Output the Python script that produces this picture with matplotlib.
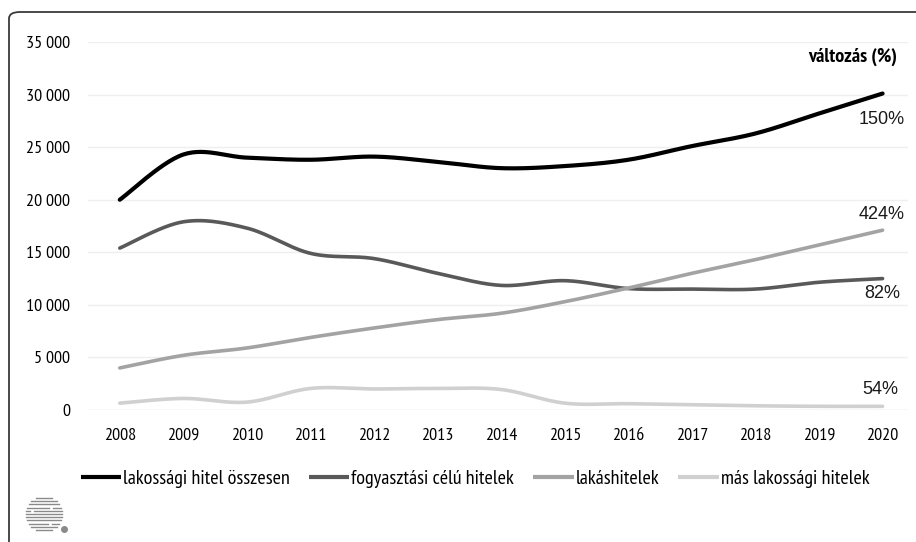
import numpy as np
import matplotlib
matplotlib.use("Agg")
import matplotlib.pyplot as plt
from matplotlib.patches import FancyBboxPatch
from matplotlib.lines import Line2D
from matplotlib.ticker import FuncFormatter

# ---------------- data ----------------
years = ["2008", "2009", "2010", "2011", "2012", "2013", "2014",
         "2015", "2016", "2017", "2018", "2019", "2020"]
total = [20000, 24300, 24000, 23800, 24100, 23600, 23000,
         23200, 23800, 25100, 26300, 28200, 30100]
consumer = [15400, 17900, 17300, 14900, 14400, 13000, 11850,
            12300, 11550, 11500, 11500, 12150, 12500]
housing = [4000, 5200, 5900, 6900, 7800, 8600, 9200,
           10300, 11600, 13000, 14300, 15700, 17100]
other = [650, 1100, 750, 2050, 2000, 2050, 1950,
         650, 600, 500, 400, 350, 350]
series_names = ["lakossági hitel összesen", "fogyasztási célú hitelek",
                "lakáshitelek", "más lakossági hitelek"]
change_labels = ["150%", "82%", "424%", "54%"]
yticks = [0, 5000, 10000, 15000, 20000, 25000, 30000, 35000]

colors = ["#000000", "#595959", "#a3a3a3", "#d0d0d0"]
widths = [3.0, 2.6, 2.6, 2.6]

W, H, DPI = 916, 542, 100
NARROW = ["PT Sans Narrow", "Roboto Condensed", "DejaVu Sans"]
SANS = ["Liberation Sans", "DejaVu Sans"]


def smooth(y, n=30):
    """Excel-style smoothed line (Bezier with Catmull-Rom control points)."""
    x = np.arange(len(y), dtype=float)
    y = np.asarray(y, dtype=float)
    px = np.concatenate([[x[0]], x, [x[-1]]])
    py = np.concatenate([[y[0]], y, [y[-1]]])
    xs, ys = [], []
    t = np.linspace(0, 1, n)
    for i in range(len(y) - 1):
        p0 = np.array([px[i], py[i]])
        p1 = np.array([px[i + 1], py[i + 1]])
        p2 = np.array([px[i + 2], py[i + 2]])
        p3 = np.array([px[i + 3], py[i + 3]])
        c1 = p1 + (p2 - p0) / 6.0
        c2 = p2 - (p3 - p1) / 6.0
        b = (((1 - t) ** 3)[:, None] * p1 + (3 * (1 - t) ** 2 * t)[:, None] * c1
             + (3 * (1 - t) * t ** 2)[:, None] * c2 + (t ** 3)[:, None] * p2)
        xs.append(b[:, 0])
        ys.append(b[:, 1])
    return np.concatenate(xs), np.concatenate(ys)


fig = plt.figure(figsize=(W / DPI, H / DPI), dpi=DPI)
fig.patch.set_facecolor("white")

# rounded frame (clipped at right/bottom like the reference)
frame = FancyBboxPatch((9 / W, -0.2), 1.2, 1.2 - 12 / H,
                       boxstyle="round,pad=0,rounding_size=0.012",
                       transform=fig.transFigure, fill=False,
                       edgecolor="#3a3a3a", linewidth=1.3, zorder=0)
fig.patches.append(frame)

ax = fig.add_axes([88 / W, (H - 410) / H, (908 - 88) / W, (410 - 42) / H])
ax.set_xlim(-0.5, 12.4)
ax.set_ylim(0, 35000)
for s in ax.spines.values():
    s.set_visible(False)
ax.set_yticks(yticks)
ax.yaxis.set_major_formatter(FuncFormatter(lambda v, p: f"{int(v):,}".replace(",", " ")))
ax.set_xticks(range(len(years)))
ax.set_xticklabels(years)
ax.tick_params(axis="both", length=0, labelsize=13, colors="#000000")
ax.tick_params(axis="y", pad=13)
ax.tick_params(axis="x", pad=13)
for lab in ax.get_xticklabels() + ax.get_yticklabels():
    lab.set_family(NARROW)
for v in yticks:
    ax.axhline(v, color="#d9d9d9" if v == 0 else "#efefef", lw=1.0, zorder=1)

data = [total, consumer, housing, other]
for vals, c, w, name in zip(data, colors, widths, series_names):
    sx, sy = smooth(vals)
    ax.plot(sx, sy, color=c, lw=w, solid_capstyle="round",
            zorder=3, clip_on=False, label=name)

# percentage labels
offsets = [(22, -26), (18, -15), (22, 16), (16, 17)]
for vals, lab, (dx, dy) in zip(data, change_labels, offsets):
    ax.annotate(lab, xy=(len(vals) - 1, vals[-1]), xytext=(dx, dy),
                textcoords="offset pixels", ha="right", va="center",
                fontsize=13, family=SANS, color="#1a1a1a", annotation_clip=False)

fig.text(897 / W, 1 - 57 / H, "változás (%)", ha="right", va="center",
         fontsize=14.5, fontweight="bold", family=NARROW, color="#000000")

# legend
leg_handles = [Line2D([], [], color=c, lw=3.0, solid_capstyle="butt") for c in colors]
fig.legend(leg_handles, series_names, loc="center left",
           bbox_to_anchor=(81 / W, 1 - 479 / H), ncol=4, frameon=False,
           handlelength=2.0, handletextpad=0.1, columnspacing=0.95,
           borderaxespad=0, borderpad=0,
           prop={"family": NARROW, "size": 14.5})

# logo (stylised striped circle)
cx, cy, r = 44, 514, 18
rows = np.linspace(cy - r + 2, cy + r - 2, 11)
for k, yy in enumerate(rows):
    half = np.sqrt(max(r ** 2 - (yy - cy) ** 2, 0))
    x0, x1 = cx - half, cx + half
    if k in (3, 4, 8):
        xm = x0 + (x1 - x0) * (0.15 if k == 4 else 0.7)
        segs = [(x0, xm - 2), (xm + 2, x1)]
    else:
        segs = [(x0, x1)]
    for a, b in segs:
        fig.add_artist(Line2D([a / W, b / W], [1 - yy / H, 1 - yy / H],
                              transform=fig.transFigure, color="#8a8a8a", lw=1.0))
fig.add_artist(Line2D([64 / W], [1 - 529 / H], transform=fig.transFigure,
                      marker="o", markersize=4, color="#8a8a8a", lw=0))

fig.savefig("out.png", dpi=DPI, facecolor="white")
